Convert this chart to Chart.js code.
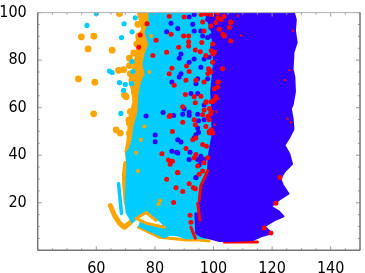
<!DOCTYPE html>
<html>
<head>
<meta charset="utf-8">
<style>
  html, body { margin: 0; padding: 0; background: #fff; }
  #chart { display: block; }
</style>
<script src="https://cdn.jsdelivr.net/npm/chart.js@4"></script>
</head>
<body>
<canvas id="chart" width="365" height="273"></canvas>
<script>
// Axis ticks
const xLabels = [60, 80, 100, 120, 140];
const yLabels = [20, 40, 60, 80, 100];

// Outlines of the solid regions as [x, y]
const orangeBand = [[73.7,102],[75.1,95.8],[75.7,92.9],[73.7,89.5],[74.4,85.4],[73.4,81.2],[72.7,77],[71.3,71.6],[72.3,66.7],[72.7,62.5],[71.3,56.3],[71,52.1],[70.6,45.9],[70,41.7],[70.6,35.5],[79.8,35.5],[79.8,102]];
const cyanRegion = [[78.1,102],[78.1,95.9],[76.8,91.6],[78.1,86.6],[76.8,82.5],[76.1,78.3],[76.8,74.1],[75.4,70],[74.7,65.8],[74.4,58.3],[73,52.1],[72.3,45.9],[71.3,42.5],[70.3,40.9],[70.6,35.5],[70.3,29.2],[70,20.9],[70.3,15.9],[72.3,11.8],[74.7,14.7],[77.1,15.9],[81.5,12.6],[83.9,9.7],[75.1,11.8],[74.7,10.1],[83.2,5.5],[84.9,6.4],[87.3,6.4],[90.7,5.1],[95.1,5.1],[100.2,5.1],[108.7,62.5],[108.7,102]];
const blueRegion = [[127,102],[128.1,97],[127.8,92.4],[128.4,87.4],[127.3,83.3],[127,76.2],[127.6,72.9],[127.8,66.7],[127,61.2],[126.4,59.6],[127,55.4],[127.3,50.9],[125.9,47.5],[124.2,44.2],[125.9,40.5],[126.8,36.3],[124.2,33],[122.8,30.1],[123.6,27.6],[125.6,23.8],[122.4,21.3],[119.6,18.4],[122.4,16.3],[123.9,14.3],[120.7,12.6],[117.3,10.1],[119.9,7.2],[116.2,5.9],[113.4,4.3],[106,3.9],[102,3.9],[98.6,5.1],[95.8,5.9],[94.1,7.2],[93.8,15.5],[94.5,15.5],[95.2,7.6],[95.5,10.1],[95.2,19.7],[95.8,26.7],[98.1,33.8],[98.5,40.5],[99.6,47.9],[99.6,58.3],[99.2,66.7],[100.2,79.1],[99.6,91.6],[97.5,99.1],[96.9,102]];

// Thick strokes along the lower edge
const orangeHook = [[64.8,18.8],[66.2,14.7],[67.9,11.4],[69.6,9.7],[71.7,11.8]];
const orangeColumn = [[70,36.5],[69.6,32],[69.7,27],[70.2,20]];
const orangeArc = [[73.6,13.4],[77,15.9],[80.4,12.6]];
const orangeStrip = [[73.6,13.4],[77,11.4],[83.2,9.7]];
const orangeBottom = [[74.4,9.7],[81.5,5.5],[84.9,5.1],[90.7,4.3],[95.1,4.3],[98.5,3.9]];
const cyanStrip = [[67.6,28],[68.6,15.5]];
const redStripA = [[94.6,19.7],[95.4,12.6]];
const redStripB = [[92.3,9.7],[93.8,5.1]];
const redStripC = [[98,33.5],[95.7,27.2],[95.1,20.9]];
const redBottom = [[103.7,3.5],[115,3.5]];

// Scattered points
const orangePoints = [[54.9,89.8],[59.2,90.1],[57.2,84.7],[65.4,84.2],[67.9,99.6],[53.9,72.1],[59.5,70.7],[59.1,57.4],[66.8,50.6],[68.2,49.3],[71.3,49.3],[71.3,80.8],[71.3,77.7],[67.6,75.7],[69.3,76],[71.6,74.3],[72.8,83],[72.5,71.9],[73.8,86.8],[74.5,90.2],[73,66.6],[69.6,65.3],[70.2,64.6],[73.6,63.2],[73.8,61.1],[71.6,58.3],[71.1,54.9],[71.3,53.5],[74.7,84.7],[76.4,79.1],[75.9,73.6],[75.9,95.8],[75.3,99.2],[77,98.5],[74.2,95.1]];
const orangeSpecks = [[81.8,20.9],[81.3,19.5],[76.4,52.1],[75.3,46.5],[73.6,41],[74.2,33.4],[78.1,75],[78.7,90.2]];
const cyanPoints = [[60,99.6],[56.8,94.6],[69.5,95.3],[68.6,89.5],[72.2,91.9],[73.3,97.8],[72.2,79.4],[72.5,75.2],[64.5,75.4],[65.4,74.8],[67.9,70.5],[69.9,69.8],[69.3,67.3],[72,70.1],[68.4,57.6]];
const redPoints = [[84.9,98.5],[90,98.1],[85.5,90.9],[88.1,85.4],[89.8,90.2],[91.5,90.2],[91.5,87.7],[91.5,86],[96,87.4],[96.3,96],[95.7,99.5],[102,93],[105.9,96],[98.3,76.4],[85.8,76.6],[84.9,74.3],[90.8,77.5],[91.7,75.2],[90.6,71.5],[94,71.5],[96.8,70.8],[93.8,84.3],[95.5,83.5],[97.4,81.9],[99.7,83.3],[99.7,86.8],[99.1,94.4],[96.8,92.3],[100.8,95.8],[101.4,99.9],[103.6,98.5],[99.7,79.1],[99.1,75],[101.4,68.7],[105.9,88.1],[103.1,76.4],[97.4,99.5],[99.1,99.5],
  [90.4,65.5],[93.4,64.6],[95.7,64.8],[93.8,62.1],[89.5,60.4],[85.2,56.7],[96.8,59],[97.4,62.2],[99.7,62.5],[96.3,57],[99.1,57.6],[98.5,54.9],[93.4,54.9],[93.8,52.8],[89.5,53.9],[86,50],[97.4,52.1],[98.5,50],[99.7,49.3],[92.9,46.5],[94,47.2],[96.3,44.5],[97.6,43.8],[90.6,42.8],[94,40.3],[93.4,38.9],[86,37.5],[85.2,36.2],[87.8,32.7],[94.6,35.5],[95.1,32],[96.3,33.4],[96.8,36.8],[98,38.9],
  [80.4,88.4],[75,90.6],[74.5,85.4],[79.3,81.9],[84,83.3],[86.6,69.4],[77.3,95.3],[84.9,56.3],[82.4,40.6],[84.6,38],[84,29.9],[87.8,32.6],[87.2,26.3],[89.5,24.7],[86.4,20.1],[92,14.7],[92.3,11.8],[91.7,28],[93.1,26.3],[93.8,25.9],[121.3,19.8],[117.3,9.4],[119.6,7.3],[122.7,30.6],
  [95.8,99.2],[97.5,99.5],[99.2,99.2],[101.5,97.8],[102.6,97.1],[106,95.8],[105.4,93.7],[103.2,90.9],[103.7,90.2],[99.2,84],[99.8,82.6],[100.3,83.3],[98.6,75.7],[98.1,74.3],[101.5,70.8],[100.3,68],[99.2,62.5],[98.6,59.7],[99.2,58.3],[97.5,62.5],[98.1,56.3],[99.2,50.7],[98.6,49.3],[100.3,63.2],[100.9,64.6]];
const bluePoints = [[91.7,98.1],[93.4,99.2],[85.5,95.5],[87.8,93.3],[92.9,95.1],[93.4,92.3],[95.7,92.3],[98,97.1],[99.7,97.1],[99.1,93.7],[96.3,90.2],[98,89.5],[99.1,90.2],[88.9,82.6],[88.3,80.8],[91.7,79.1],[93.4,80.5],[96.8,80.5],[98.5,81.2],[99.7,85.4],[88.9,74.3],[88.3,72.9],[85.8,70.8],[94.6,72.2],[94,70.1],[98,72.2],[95.7,77],
  [92.3,66],[94.6,66],[90,59.4],[89.5,57.2],[91.7,58.1],[91.7,56.7],[94.6,57.2],[94.9,54.5],[96.8,61.1],[98.5,56.3],[94.6,51.4],[94.9,49.7],[96.8,54.9],[94,48.6],[93.4,47.2],[87.8,46.5],[88.9,45.6],[85.8,41.7],[87.4,41.3],[92,41.3],[91.7,38.2],[94.6,38.2],[95.7,37.5],[95.1,35.9],[96.8,38.2],[94,30.6],[95.7,39.6],
  [84,91.9],[77,56.5],[82.8,58],[86.4,56.7],[80.1,48.5],[80.1,45.7],[87.8,40.9],[94,30.5]];
const redSpecks = [[108.3,98.7],[109.4,90.4],[106,88.3],[103.2,76.4],[102.3,70.8],[101.6,63.7],[101,58.3],[100.3,52.9],[125.3,55.4],[126.4,53.8],[125.9,75.8],[124.4,71.6],[127.2,92.4]];

const ORANGE = '#ffa500';
const CYAN = '#00ccff';
const BLUE = '#3300ff';
const RED = '#ff0000';

const toXY = list => list.map(p => ({ x: p[0], y: p[1] }));

function region(list, color, order) {
  return { type: 'scatter', data: toXY(list), regionColor: color, pointRadius: 0, order: order };
}
function stroke(list, color, width, order) {
  return { type: 'scatter', data: toXY(list), showLine: true, fill: false, borderColor: color, borderWidth: width, borderCapStyle: 'round', borderJoinStyle: 'round', pointRadius: 0, order: order };
}
function dots(list, color, radius, order) {
  return { type: 'scatter', data: toXY(list), backgroundColor: color, borderWidth: 0, pointRadius: radius, order: order };
}

// Fills a region dataset as a closed polygon through its scaled points
const regionPlugin = {
  id: 'region',
  beforeDatasetDraw(chart, args) {
    const color = chart.data.datasets[args.index].regionColor;
    if (!color) return;
    const { ctx, chartArea: a } = chart;
    ctx.save();
    ctx.beginPath();
    ctx.rect(a.left, a.top, a.right - a.left, a.bottom - a.top);
    ctx.clip();
    ctx.beginPath();
    args.meta.data.forEach((pt, i) => (i ? ctx.lineTo(pt.x, pt.y) : ctx.moveTo(pt.x, pt.y)));
    ctx.closePath();
    ctx.fillStyle = color;
    ctx.strokeStyle = color;
    ctx.lineWidth = 2;
    ctx.lineJoin = 'round';
    ctx.fill();
    ctx.stroke();
    ctx.restore();
  }
};

// Frame and inward ticks on all four sides
const framePlugin = {
  id: 'frame',
  afterDatasetsDraw(chart) {
    const { ctx, chartArea: a, scales } = chart;
    const tick = (x1, y1, x2, y2) => { ctx.beginPath(); ctx.moveTo(x1, y1); ctx.lineTo(x2, y2); ctx.stroke(); };
    ctx.save();
    ctx.strokeStyle = '#999';
    ctx.lineWidth = 1;
    for (let v = 40; v <= 150; v += 5) {
      const x = scales.x.getPixelForValue(v), len = v % 20 === 0 ? 4 : 2;
      tick(x, a.bottom, x, a.bottom - len);
      tick(x, a.top, x, a.top + len);
    }
    for (let v = 0; v <= 100; v += 5) {
      const y = scales.y.getPixelForValue(v), len = v % 20 === 0 ? 4 : 2;
      tick(a.left, y, a.left + len, y);
      tick(a.right, y, a.right - len, y);
    }
    ctx.strokeStyle = '#b0b0b0';
    tick(a.left, a.top, a.right, a.top);
    ctx.strokeStyle = '#777';
    ctx.lineWidth = 1.5;
    tick(a.left, a.top, a.left, a.bottom);
    tick(a.left, a.bottom, a.right, a.bottom);
    tick(a.right, a.top, a.right, a.bottom);
    ctx.restore();
  }
};

const tickFont = { family: '"DejaVu Sans Condensed", "DejaVu Sans"', size: 16 };

new Chart(document.getElementById('chart'), {
  type: 'scatter',
  data: {
    datasets: [
      region(orangeBand, ORANGE, 20),
      dots(orangePoints, ORANGE, 3.4, 19),
      stroke(orangeHook, ORANGE, 5, 18),
      stroke(orangeColumn, ORANGE, 5, 18),
      stroke(orangeBottom, ORANGE, 3, 18),
      region(cyanRegion, CYAN, 15),
      dots(cyanPoints, CYAN, 2.6, 14),
      stroke(cyanStrip, CYAN, 3.5, 13),
      stroke(orangeArc, ORANGE, 3, 12),
      stroke(orangeStrip, ORANGE, 3, 12),
      dots(orangeSpecks, ORANGE, 2, 12),
      stroke(redBottom, RED, 3, 11),
      dots(bluePoints, BLUE, 2.5, 8),
      region(blueRegion, BLUE, 6),
      stroke(redStripA, RED, 3, 5),
      stroke(redStripB, RED, 3, 5),
      stroke(redStripC, RED, 3, 5),
      dots(redPoints, RED, 2.5, 4),
      dots(redSpecks, RED, 1.2, 4)
    ]
  },
  options: {
    responsive: false,
    animation: false,
    layout: { padding: { top: 9.5, right: 5, left: 0, bottom: 0 } },
    plugins: { legend: { display: false }, tooltip: { enabled: false } },
    scales: {
      x: {
        min: 40,
        max: 150,
        afterFit(scale) { scale.height = 22.7; },
        afterBuildTicks(scale) { scale.ticks = xLabels.map(v => ({ value: v })); },
        grid: { display: false },
        border: { display: false },
        ticks: { font: tickFont, color: '#000', padding: 1, maxRotation: 0 }
      },
      y: {
        min: 0,
        max: 100,
        afterFit(scale) { scale.width = 37.7; },
        afterBuildTicks(scale) { scale.ticks = yLabels.map(v => ({ value: v })); },
        grid: { display: false },
        border: { display: false },
        ticks: { font: tickFont, color: '#000', padding: 3 }
      }
    }
  },
  plugins: [regionPlugin, framePlugin]
});
</script>
</body>
</html>
